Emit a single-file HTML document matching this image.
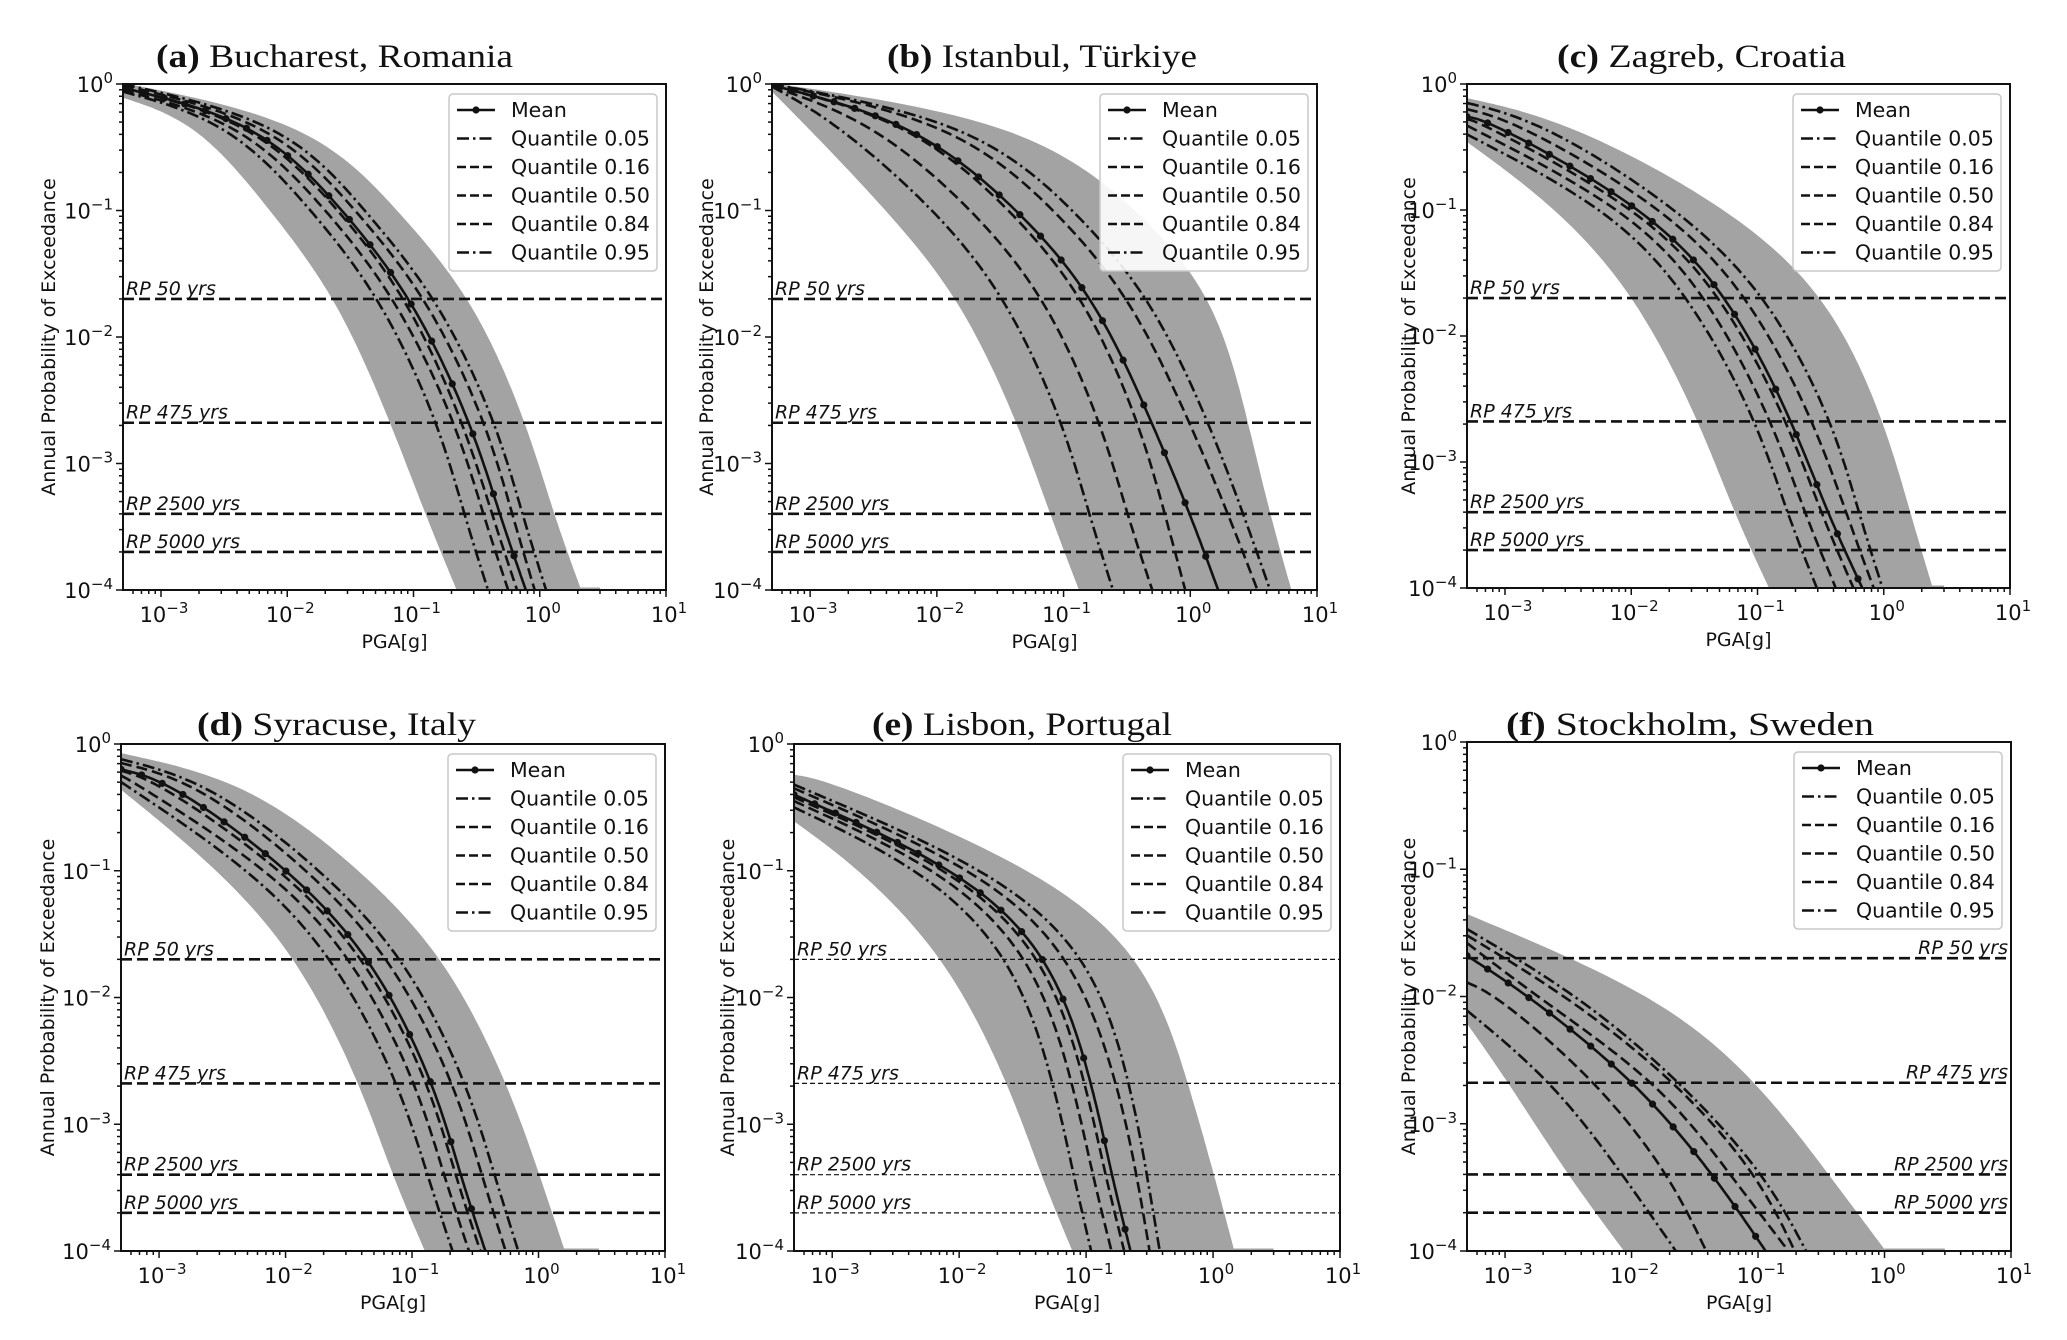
<!DOCTYPE html>
<html><head><meta charset="utf-8"><style>
html,body{margin:0;padding:0;background:#fff;}
svg{display:block;}
text{font-family:"DejaVu Sans","Liberation Sans",sans-serif;}
.ttl{font-family:"Liberation Serif",serif;font-size:33px;}
</style></head><body>
<svg id="fig" width="2067" height="1340" viewBox="0 0 2067 1340" xmlns="http://www.w3.org/2000/svg"></svg>
<script>
// ---- data (log10 PGA crossings of probability levels, log10 start prob at PGA=5e-4) ----
const curveNames = ['mean','q05','q16','q50','q84','q95','bandLo','bandHi'];
const legendLabels = ['Mean','Quantile 0.05','Quantile 0.16','Quantile 0.50','Quantile 0.84','Quantile 0.95'];
const rpLabels = ['RP 50 yrs','RP 475 yrs','RP 2500 yrs','RP 5000 yrs'];
const rpProbs = [0.02, 0.0021, 0.0004, 0.0002];
const xTickExps = [-3,-2,-1,0,1];
const yTickExps = [-4,-3,-2,-1,0];
const titleTags = ['(a)','(b)','(c)','(d)','(e)','(f)'];
const titleNames = ['Bucharest, Romania','Istanbul, Türkiye','Zagreb, Croatia','Syracuse, Italy','Lisbon, Portugal','Stockholm, Sweden'];

const levelsMain = [-0.3,-1,-1.7,-2.68,-3.4,-4];
const levelsF = [-2,-2.68,-3.4,-4];

const startsA = [-0.03,-0.06,-0.05,-0.03,-0.01,0,-0.1,0];
const crossA = [[-2.21,-1.55,-1.0,-0.54,-0.32,-0.11],[-2.45,-1.8,-1.25,-0.8,-0.6,-0.41],[-2.35,-1.68,-1.13,-0.66,-0.45,-0.25],[-2.25,-1.58,-1.04,-0.6,-0.38,-0.18],[-2.1,-1.45,-0.88,-0.42,-0.22,-0.04],[-2.0,-1.38,-0.8,-0.34,-0.14,0.05],[-2.7,-2.12,-1.59,-1.17,-0.9,-0.65],[-1.8,-1.13,-0.53,-0.11,0.1,0.32]];

const startsB = [-0.01,-0.02,-0.02,-0.01,0,0,-0.05,0];
const crossB = [[-2.17,-1.34,-0.74,-0.3,0.0,0.22],[-2.8,-2.0,-1.44,-1.0,-0.8,-0.61],[-2.5,-1.7,-1.13,-0.7,-0.5,-0.3],[-2.2,-1.4,-0.82,-0.4,-0.2,-0.04],[-1.85,-1.05,-0.46,0.0,0.3,0.53],[-1.7,-0.9,-0.3,0.15,0.42,0.63],[-3.05,-2.38,-1.8,-1.35,-1.1,-0.87],[-1.3,-0.4,0.2,0.45,0.62,0.79]];

const startsC = [-0.26,-0.4,-0.33,-0.28,-0.2,-0.15,-0.45,-0.12];
const crossC = [[-3.1,-1.85,-1.21,-0.72,-0.45,-0.17],[null,-2.15,-1.52,-1.0,-0.77,-0.53],[null,-2.0,-1.38,-0.88,-0.63,-0.38],[-3.2,-1.9,-1.26,-0.76,-0.5,-0.24],[-2.9,-1.7,-1.05,-0.55,-0.3,-0.08],[-2.7,-1.6,-0.9,-0.4,-0.2,-0.01],[null,-2.55,-1.94,-1.45,-1.18,-0.9],[-2.5,-1.2,-0.43,0.0,0.2,0.38]];

const startsD = [-0.2,-0.3,-0.25,-0.21,-0.15,-0.12,-0.35,-0.08];
const crossD = [[-2.9,-1.95,-1.3,-0.82,-0.62,-0.42],[null,-2.25,-1.6,-1.1,-0.88,-0.68],[-3.2,-2.1,-1.45,-0.96,-0.75,-0.55],[-3.0,-2.0,-1.35,-0.86,-0.66,-0.46],[-2.7,-1.8,-1.15,-0.66,-0.45,-0.26],[-2.6,-1.7,-1.04,-0.56,-0.35,-0.16],[null,-2.5,-1.88,-1.4,-1.15,-0.89],[-2.3,-1.4,-0.73,-0.25,0.0,0.2]];

const startsE = [-0.4,-0.5,-0.45,-0.42,-0.35,-0.32,-0.6,-0.25];
const crossE = [[null,-1.95,-1.25,-0.95,-0.8,-0.65],[null,-2.25,-1.56,-1.25,-1.1,-0.96],[null,-2.1,-1.4,-1.1,-0.95,-0.8],[null,-2.0,-1.3,-1.0,-0.85,-0.7],[null,-1.8,-1.08,-0.75,-0.6,-0.5],[null,-1.7,-0.94,-0.65,-0.52,-0.42],[null,-2.75,-2.08,-1.6,-1.35,-1.1],[-3.0,-1.35,-0.52,-0.2,0.0,0.16]];

const startsF = [-1.68,-2.11,-1.89,-1.58,-1.52,-1.47,-2.2,-1.36];
const crossF = [[-2.8,-1.95,-1.35,-0.94],[null,-2.61,-2.07,-1.65],[-3.05,-2.26,-1.7,-1.41],[-2.75,-1.77,-1.22,-0.76],[-2.5,-1.63,-1.0,-0.71],[-2.4,-1.6,-0.94,-0.62],[null,-2.96,-2.5,-2.05],[-1.77,-1.0,-0.45,0.0]];

// ---- layout ----
const layout = [
 {L:123,T:84,W:543,H:506,ylab:49,tx:156,tw:357,ty:67,thin:false,rpRight:false},
 {L:772,T:84,W:545,H:506,ylab:707,tx:887,tw:310,ty:67,thin:false,rpRight:false},
 {L:1467,T:84,W:543,H:504,ylab:1409,tx:1557,tw:289,ty:67,thin:false,rpRight:false},
 {L:121,T:744,W:544,H:507,ylab:48,tx:197,tw:279,ty:735,thin:false,rpRight:false},
 {L:794,T:744,W:546,H:507,ylab:728,tx:872,tw:300,ty:735,thin:true,rpRight:false},
 {L:1467,T:742,W:544,H:509,ylab:1409,tx:1506,tw:368,ty:735,thin:false,rpRight:true}
];
const panelData = [
 [levelsMain,startsA,crossA],[levelsMain,startsB,crossB],[levelsMain,startsC,crossC],
 [levelsMain,startsD,crossD],[levelsMain,startsE,crossE],[levelsF,startsF,crossF]
];
const XMIN=-3.301, XMAX=1, YMIN=-4, YMAX=0;
const NS='http://www.w3.org/2000/svg';
const fig=document.getElementById('fig');
function mk(tag,attrs,parent){const e=document.createElementNS(NS,tag);for(const k in attrs)e.setAttribute(k,attrs[k]);(parent||fig).appendChild(e);return e;}
const styles={mean:'',q05:'12 4 2.5 4',q16:'11 5',q50:'11 5',q84:'11 5',q95:'12 4 2.5 4'};

// clamped uniform cubic B-spline smoothing through the read points
function bspline(pts){
  if(pts.length<2) return pts;
  const c=[pts[0],pts[0],...pts,pts[pts.length-1],pts[pts.length-1]];
  const out=[];
  for(let i=0;i<c.length-3;i++){
    const [p0,p1,p2,p3]=[c[i],c[i+1],c[i+2],c[i+3]];
    for(let k=0;k<20;k++){
      const t=k/20,t2=t*t,t3=t2*t;
      const b0=(1-t)*(1-t)*(1-t)/6,b1=(3*t3-6*t2+4)/6,b2=(-3*t3+3*t2+3*t+1)/6,b3=t3/6;
      out.push([b0*p0[0]+b1*p1[0]+b2*p2[0]+b3*p3[0], b0*p0[1]+b1*p1[1]+b2*p2[1]+b3*p3[1]]);
    }
  }
  out.push(pts[pts.length-1]);
  return out;
}

layout.forEach((P,pi)=>{
  const g=mk('g',{});
  
  
  const sx=v=>P.L+(v-XMIN)/(XMAX-XMIN)*P.W;
  const sy=v=>P.T+(YMAX-v)/(YMAX-YMIN)*P.H;
  const [levels,starts,cross]=panelData[pi];
  const cid='clip'+pi;
  const cp=mk('clipPath',{id:cid},g);mk('rect',{x:P.L,y:P.T,width:P.W,height:P.H},cp);
  const plot=mk('g',{'clip-path':'url(#'+cid+')'},g);
  
  
  function curvePts(ci){
    const pts=[[sx(XMIN),sy(starts[ci])]];
    levels.forEach((lv,i)=>{const c=cross[ci][i];if(c!==null&&lv<starts[ci]&&sx(c)>pts[pts.length-1][0]+1)pts.push([sx(c),sy(lv)]);});
    return bspline(pts);
  }
  const hi=curvePts(7), lo=curvePts(6);
  const endHi=hi[hi.length-1];
  let d='M'+hi.map(p=>p[0].toFixed(1)+','+p[1].toFixed(1)).join('L');
  d+='L'+lo.slice().reverse().map(p=>p[0].toFixed(1)+','+p[1].toFixed(1)).join('L')+'Z';
  const band=mk('path',{d:d,fill:'#a3a3a3',stroke:'#a3a3a3','stroke-width':2},plot);
  
  
  const flat=mk('line',{x1:endHi[0],y1:sy(-4)-1,x2:sx(Math.log10(3)),y2:sy(-4)-1,stroke:'#a3a3a3','stroke-width':3},plot);
  
  
  rpProbs.forEach((p,i)=>{
    const y=sy(Math.log10(p));
    const ln=mk('line',{x1:P.L,x2:P.L+P.W,y1:y,y2:y,stroke:'#111','stroke-width':P.thin?1.2:2.6,'stroke-dasharray':P.thin?'5 3':'11 5'},plot);
    
    
  });
  for(let ci=5;ci>=0;ci--){
    const pts=curvePts(ci);
    const pth=mk('path',{d:'M'+pts.map(p=>p[0].toFixed(1)+','+p[1].toFixed(1)).join('L'),fill:'none',stroke:'#111','stroke-width':2.6},plot);
    if(styles[curveNames[ci]])pth.setAttribute('stroke-dasharray',styles[curveNames[ci]]);
    
    
    if(ci===0){
      for(let k=0;k<40;k++){
        const xv=sx(XMIN+k*0.163);
        let q=null;for(let j=0;j<pts.length-1;j++){if(pts[j][0]<=xv&&pts[j+1][0]>=xv){const t=(xv-pts[j][0])/((pts[j+1][0]-pts[j][0])||1);q=[xv,pts[j][1]+t*(pts[j+1][1]-pts[j][1])];break;}}
        if(!q)continue;
        const m=mk('circle',{cx:q[0],cy:q[1],r:3.6,fill:'#111'},plot);
        
        
      }
    }
  }
  rpProbs.forEach((p,i)=>{
    const y=sy(Math.log10(p))-4;
    const t=mk('text',{x:P.rpRight?P.L+P.W-3:P.L+3,y:y,'font-size':19,'font-style':'italic','text-anchor':P.rpRight?'end':'start',fill:'#111'},g);
    t.textContent=rpLabels[i];
    
    
  });
  const fr=mk('rect',{x:P.L,y:P.T,width:P.W,height:P.H,fill:'none',stroke:'#111','stroke-width':2},g);
  
  
  const tk=mk('g',{stroke:'#111','stroke-width':1.5},g);
  
  
  for(let e=-4;e<=1;e++){for(let m=1;m<10;m++){const v=e+Math.log10(m);if(v<XMIN||v>XMAX)continue;const x=sx(v);mk('line',{x1:x,x2:x,y1:P.T+P.H,y2:P.T+P.H+(m===1?7:4)},tk);}}
  for(let e=-4;e<=0;e++){for(let m=1;m<10;m++){const v=e+Math.log10(m);if(v>YMAX)continue;const y=sy(v);mk('line',{x1:P.L,x2:P.L-(m===1?7:4),y1:y,y2:y},tk);}}
  xTickExps.forEach(e=>{
    const t=mk('text',{x:sx(e)+3,y:P.T+P.H+32,'font-size':21,'text-anchor':'middle',fill:'#111'},g);
    t.innerHTML='10<tspan dy="-9" font-size="15">'+(e<0?'−'+(-e):e)+'</tspan>';
    
    
  });
  yTickExps.forEach(e=>{
    const t=mk('text',{x:P.L-10,y:sy(e)+8,'font-size':21,'text-anchor':'end',fill:'#111'},g);
    t.innerHTML='10<tspan dy="-9" font-size="15">'+(e<0?'−'+(-e):e)+'</tspan>';
    
    
  });
  const xl=mk('text',{x:P.L+P.W/2,y:P.T+P.H+58,'font-size':19,'text-anchor':'middle',fill:'#111'},g);
  xl.textContent='PGA[g]';
  
  
  const yl=mk('text',{x:0,y:0,'font-size':19,'text-anchor':'middle',fill:'#111',transform:'translate('+(P.ylab+6)+','+(P.T+P.H/2)+') rotate(-90)'},g);
  yl.textContent='Annual Probability of Exceedance';
  
  
  const tt=mk('text',{x:P.tx,y:P.ty,'class':'ttl',fill:'#111',textLength:P.tw,lengthAdjust:'spacingAndGlyphs'},g);
  tt.innerHTML='<tspan font-weight="bold">'+titleTags[pi]+'</tspan> '+titleNames[pi];
  
  
  const lg=mk('g',{},g);
  
  
  const lx=P.L+P.W-217, ly=P.T+10;
  mk('rect',{x:lx,y:ly,width:208,height:177,rx:4,fill:'#fff','fill-opacity':0.9,stroke:'#c8c8c8','stroke-width':1.5},lg);
  legendLabels.forEach((lab,i)=>{
    const y=ly+16+i*28.5;
    const ent=mk('g',{},lg);
    
    
    const ln=mk('line',{x1:lx+8,x2:lx+46,y1:y,y2:y,stroke:'#111','stroke-width':2.6},ent);
    if(styles[curveNames[i]])ln.setAttribute('stroke-dasharray',i===1||i===5?'12 4 2.5 4':'9 4');
    if(i===0)mk('circle',{cx:lx+27,cy:y,r:3.6,fill:'#111'},ent);
    const t=mk('text',{x:lx+62,y:y+7,'font-size':20.5,fill:'#111'},ent);
    t.textContent=lab;
  });
});
</script>
</body></html>
